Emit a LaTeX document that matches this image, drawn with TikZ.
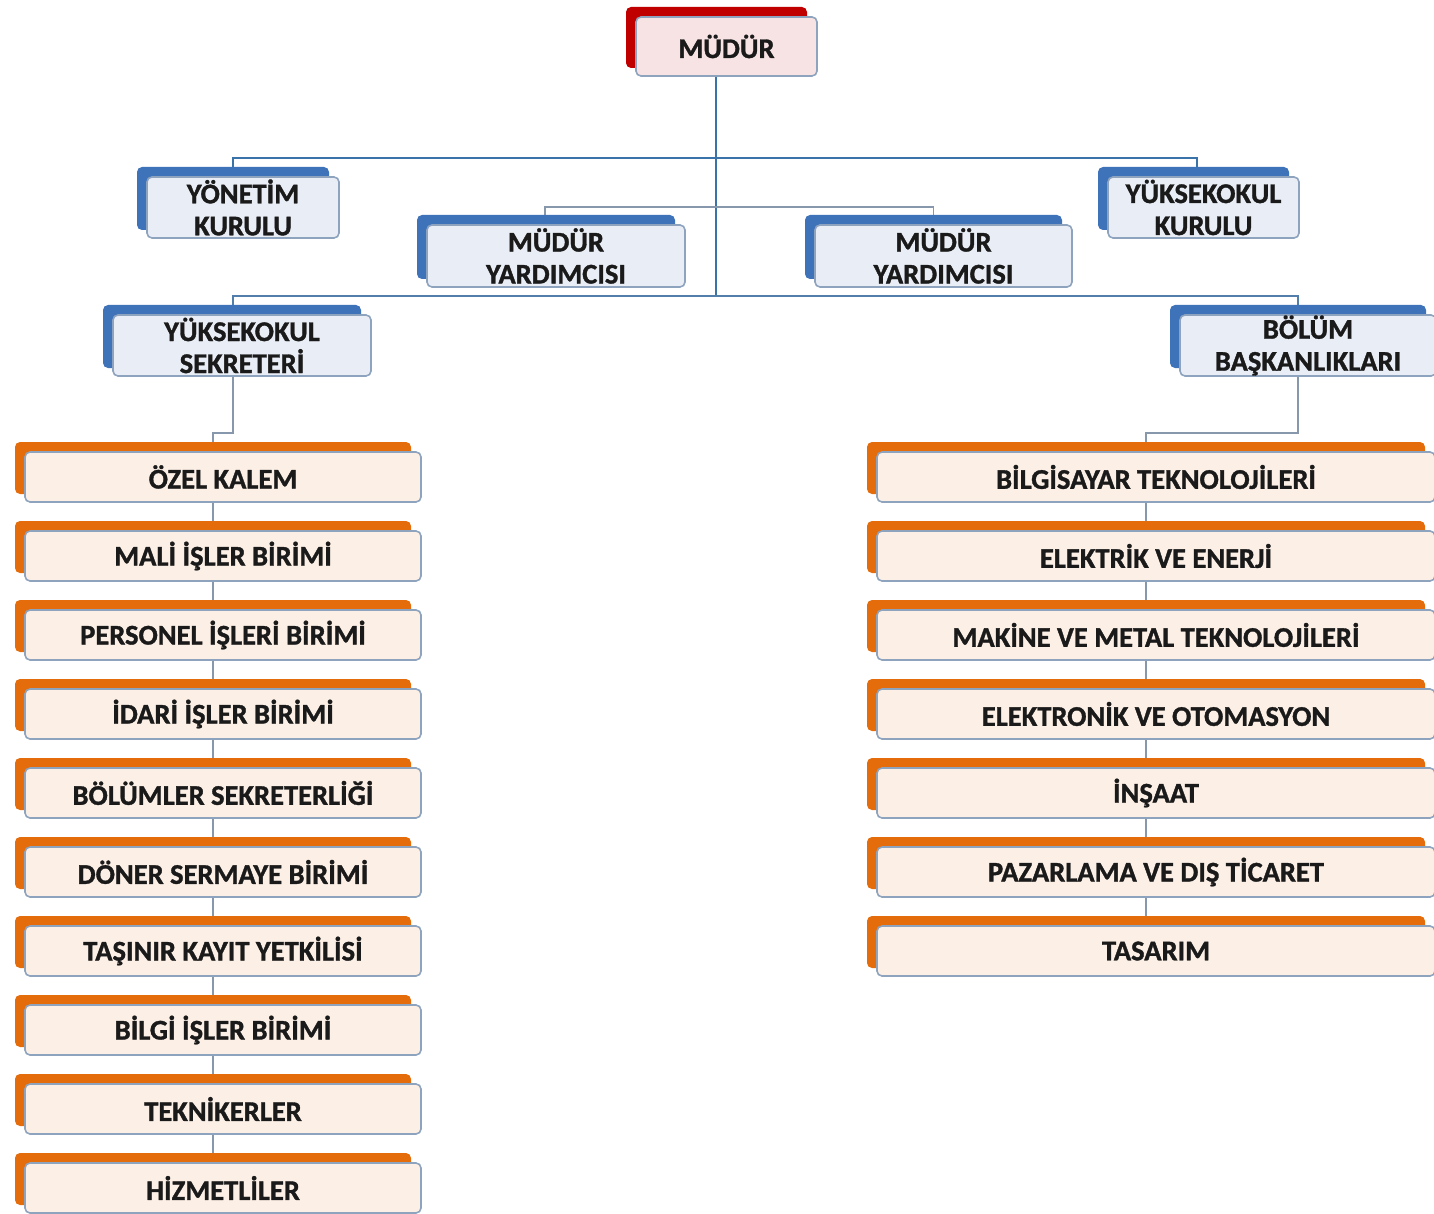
\documentclass[tikz,border=0pt]{standalone}
\usepackage{fontspec}
\setmainfont{Carlito}[BoldFeatures={FakeBold=1.2}]
\usetikzlibrary{calc}
\pgfdeclarelayer{bg}
\pgfsetlayers{bg,main}
\definecolor{bback}{HTML}{3F73B9}
\definecolor{bfill}{HTML}{E9EEF6}
\definecolor{oback}{HTML}{E46C0A}
\definecolor{ofill}{HTML}{FCEFE6}
\definecolor{rback}{HTML}{C00000}
\definecolor{rfill}{HTML}{F8E3E4}
\definecolor{fborder}{HTML}{8EA3BE}
\definecolor{lblue}{HTML}{3A73AA}
\definecolor{lgray}{HTML}{8797AC}
\definecolor{txt}{HTML}{1A1A1A}
\tikzset{
  frontbox/.style={draw=fborder, line width=1.6pt, rounded corners=5pt, inner sep=0pt, outer sep=0pt,
    align=center, font=\fontsize{28.5}{32}\selectfont\bfseries, text=txt},
  mainline/.style={draw=lblue, line width=2pt},
  subline/.style={draw=lgray, line width=1.8pt},
}
% name, cx, cy, w, h, back colour, fill colour, text
\newcommand\orgbox[8]{%
  \fill[#6, rounded corners=5pt] ({#2-#4/2-10},{#3-#5/2-10}) rectangle ({#2+#4/2-10},{#3+#5/2-8});
  \node[frontbox, fill=#7, minimum width={#4}, minimum height={#5}] (#1) at (#2,#3) {#8};
}
\begin{document}
\begin{tikzpicture}[x=1pt,y=-1pt]
\useasboundingbox (0,0) rectangle (1434,1214);
% top levels
\orgbox{mudur}{726.5}{46.5}{181}{59}{rback}{rfill}{MÜDÜR}
\orgbox{yk}{243}{207.5}{192}{61}{bback}{bfill}{YÖNETİM\\KURULU}
\orgbox{ykk}{1203.5}{207.5}{191}{61}{bback}{bfill}{YÜKSEKOKUL\\KURULU}
\orgbox{my1}{556}{256}{258}{62}{bback}{bfill}{MÜDÜR\\YARDIMCISI}
\orgbox{my2}{943.5}{256}{257}{62}{bback}{bfill}{MÜDÜR\\YARDIMCISI}
\orgbox{ys}{242}{345.5}{258}{61}{bback}{bfill}{YÜKSEKOKUL\\SEKRETERİ}
\orgbox{bb}{1308}{345.5}{256}{61}{bback}{bfill}{BÖLÜM\\BAŞKANLIKLARI}
% left column
\orgbox{l1}{223}{477}{396}{50}{oback}{ofill}{ÖZEL KALEM}
\orgbox{l2}{223}{556}{396}{50}{oback}{ofill}{MALİ İŞLER BİRİMİ}
\orgbox{l3}{223}{635}{396}{50}{oback}{ofill}{PERSONEL İŞLERİ BİRİMİ}
\orgbox{l4}{223}{714}{396}{50}{oback}{ofill}{İDARİ İŞLER BİRİMİ}
\orgbox{l5}{223}{793}{396}{50}{oback}{ofill}{BÖLÜMLER SEKRETERLİĞİ}
\orgbox{l6}{223}{872}{396}{50}{oback}{ofill}{DÖNER SERMAYE BİRİMİ}
\orgbox{l7}{223}{951}{396}{50}{oback}{ofill}{TAŞINIR KAYIT YETKİLİSİ}
\orgbox{l8}{223}{1030}{396}{50}{oback}{ofill}{BİLGİ İŞLER BİRİMİ}
\orgbox{l9}{223}{1109}{396}{50}{oback}{ofill}{TEKNİKERLER}
\orgbox{l10}{223}{1188}{396}{50}{oback}{ofill}{HİZMETLİLER}
% right column
\orgbox{r1}{1156}{477}{558}{50}{oback}{ofill}{BİLGİSAYAR TEKNOLOJİLERİ}
\orgbox{r2}{1156}{556}{558}{50}{oback}{ofill}{ELEKTRİK VE ENERJİ}
\orgbox{r3}{1156}{635}{558}{50}{oback}{ofill}{MAKİNE VE METAL TEKNOLOJİLERİ}
\orgbox{r4}{1156}{714}{558}{50}{oback}{ofill}{ELEKTRONİK VE OTOMASYON}
\orgbox{r5}{1156}{793}{558}{50}{oback}{ofill}{İNŞAAT}
\orgbox{r6}{1156}{872}{558}{50}{oback}{ofill}{PAZARLAMA VE DIŞ TİCARET}
\orgbox{r7}{1156}{951}{558}{50}{oback}{ofill}{TASARIM}
% bus coordinates
\coordinate (trunk) at (716,296);
\coordinate (busA) at (716,158);
\coordinate (busB) at (716,207);
\coordinate (lbend) at (213,433);
\coordinate (rbend) at (1146,433);
\begin{pgfonlayer}{bg}
\draw[mainline] (trunk |- mudur.south) -- (trunk);
\draw[mainline] ($(yk.north)+(-10,0)$) |- (busA) -| ($(ykk.north)+(-7,0)$);
\draw[subline] ($(my1.north)+(-11,0)$) |- (busB) -| ($(my2.north)+(-10,0)$);
\draw[subline, draw=lblue!70!lgray] ($(ys.north)+(-9,0)$) |- (trunk) -| ($(bb.north)+(-10,0)$);
\draw[subline] ($(ys.south)+(-9,0)$) |- ($(lbend)$) -- (lbend |- l1.north);
\draw[subline] ($(bb.south)+(-10,0)$) |- ($(rbend)$) -- (rbend |- r1.north);
\foreach \a/\b in {l1/l2,l2/l3,l3/l4,l4/l5,l5/l6,l6/l7,l7/l8,l8/l9,l9/l10}
  \draw[subline] (lbend |- \a.south) -- (lbend |- \b.north);
\foreach \a/\b in {r1/r2,r2/r3,r3/r4,r4/r5,r5/r6,r6/r7}
  \draw[subline] (rbend |- \a.south) -- (rbend |- \b.north);
\end{pgfonlayer}
\end{tikzpicture}
\end{document}
